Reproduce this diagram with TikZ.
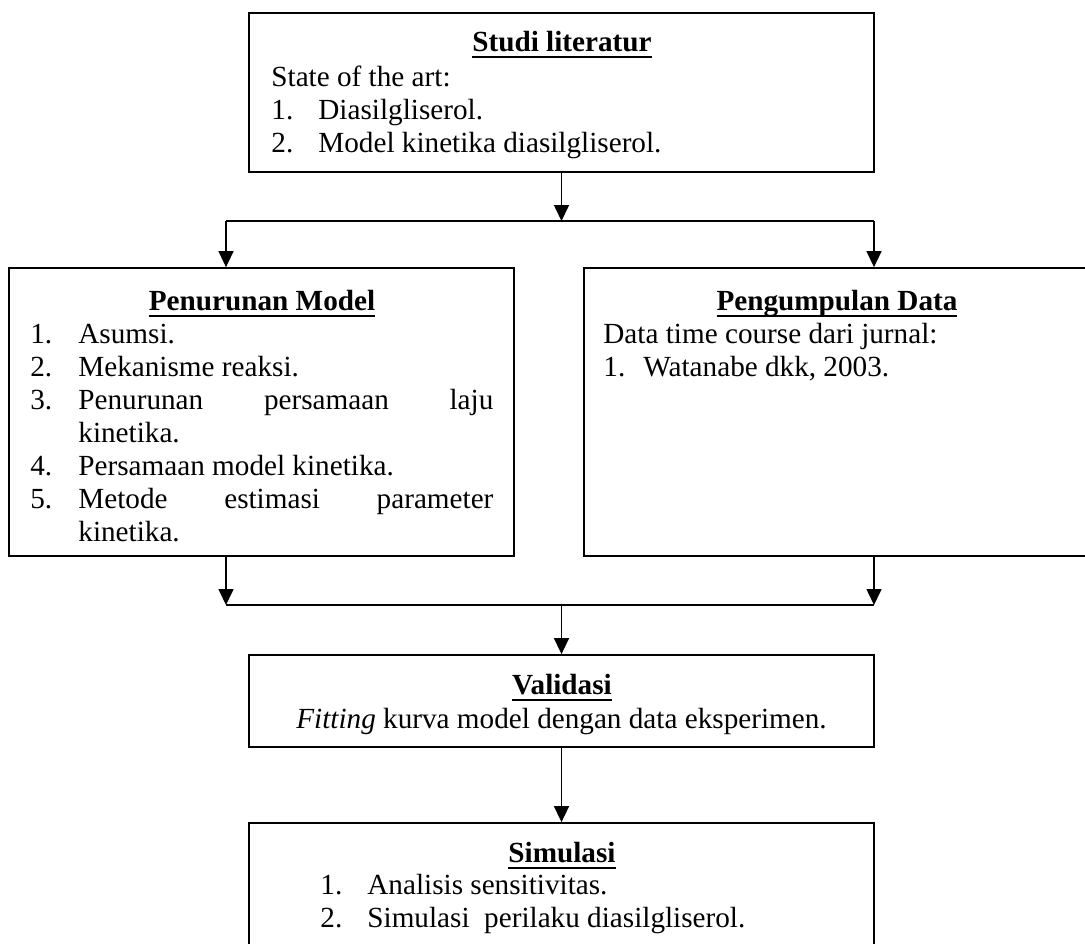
\documentclass[tikz,border=0pt]{standalone}
\usepackage{fontspec}
\setmainfont{Liberation Serif}
\usetikzlibrary{arrows.meta}
\newcommand\ulx[1]{\setbox0\hbox{#1}\rlap{\rule[-3.4pt]{\wd0}{0.95pt}}\box0}
\begin{document}
\begin{tikzpicture}[x=0.5pt,y=-0.5pt,
  box/.style={draw,line width=0.9pt,inner sep=0pt,minimum width=312.5pt},
  txt/.style={inner sep=0pt,anchor=base west,font=\fontsize{14.6pt}{16.5pt}\selectfont},
  ttl/.style={inner sep=0pt,anchor=base,font=\fontsize{14.6pt}{16.5pt}\selectfont\bfseries},
  arr/.style={line width=0.8pt,-{Triangle[length=8pt,width=7.5pt]}},
  ln/.style={line width=0.8pt}]
\useasboundingbox (0,0) rectangle (1085,943);
% boxes
\node[box,minimum height=79.5pt] (top) at (561.5,92.5) {};
\node[box,minimum width=252.5pt,minimum height=144pt] (pm) at (261.5,412) {};
\node[box,minimum width=253pt,minimum height=144pt] (pd) at (837,412) {};
\node[box,minimum height=46pt] (val) at (561.5,701) {};
\node[box,minimum height=68.5pt] (sim) at (561.5,891.5) {};
% junctions
\coordinate (j1c) at (561.5,221);
\coordinate (j1l) at (226,221);
\coordinate (j1r) at (874,221);
\coordinate (j2l) at (226,605);
\coordinate (j2r) at (874,605);
\coordinate (j2c) at (561.5,605);
% Studi literatur
\node[ttl] (t0) at (562,51) {\ulx{Studi literatur}};
\node[txt] (t1) at (271,86) {State of the art:};
\node[txt] (t2n) at (271,119) {1.};
\node[txt] (t2) at (318,119) {Diasilgliserol.};
\node[txt] (t3n) at (271,152) {2.};
\node[txt] (t3) at (318,152) {Model kinetika diasilgliserol.};
% Penurunan Model
\node[ttl] (p0) at (262,310) {\ulx{Penurunan Model}};
\node[txt] (p1n) at (30,343) {1.};
\node[txt] (p1) at (78,343) {Asumsi.};
\node[txt] (p2n) at (30,376) {2.};
\node[txt] (p2) at (78,376) {Mekanisme reaksi.};
\node[txt] (p3n) at (30,409) {3.};
\node[txt] (p3) at (78,409) {\makebox[207.5pt][s]{Penurunan persamaan laju}};
\node[txt] (p3b) at (78,442) {kinetika.};
\node[txt] (p4n) at (30,475) {4.};
\node[txt] (p4) at (78,475) {Persamaan model kinetika.};
\node[txt] (p5n) at (30,508) {5.};
\node[txt] (p5) at (78,508) {\makebox[207.5pt][s]{Metode estimasi parameter}};
\node[txt] (p5b) at (78,541) {kinetika.};
% Pengumpulan Data
\node[ttl] (d0) at (837,310) {\ulx{Pengumpulan Data}};
\node[txt] (d1) at (603,343) {Data time course dari jurnal:};
\node[txt] (d2n) at (603,376) {1.};
\node[txt] (d2) at (643,376) {Watanabe dkk, 2003.};
% Validasi
\node[ttl] (v0) at (562,694) {\ulx{Validasi}};
\node[txt] (v1) at (296,728) {\textit{Fitting} kurva model dengan data eksperimen.};
% Simulasi
\node[ttl] (s0) at (562,862) {\ulx{Simulasi}};
\node[txt] (s1n) at (320,894) {1.};
\node[txt] (s1) at (367,894) {Analisis sensitivitas.};
\node[txt] (s2n) at (320,927) {2.};
\node[txt] (s2) at (367,927) {Simulasi\ \ perilaku diasilgliserol.};
% connectors
\draw[arr] (top.south) -- (j1c);
\draw[ln] (j1l) -- (j1r);
\draw[arr] (j1l) -- (j1l |- pm.north);
\draw[arr] (j1r) -- (j1r |- pd.north);
\draw[arr] (j1l |- pm.south) -- (j2l);
\draw[arr] (j2r |- pd.south) -- (j2r);
\draw[ln] (j2l) -- (j2r);
\draw[arr] (j2c) -- (val.north);
\draw[arr] (val.south) -- (sim.north);
\end{tikzpicture}
\end{document}
